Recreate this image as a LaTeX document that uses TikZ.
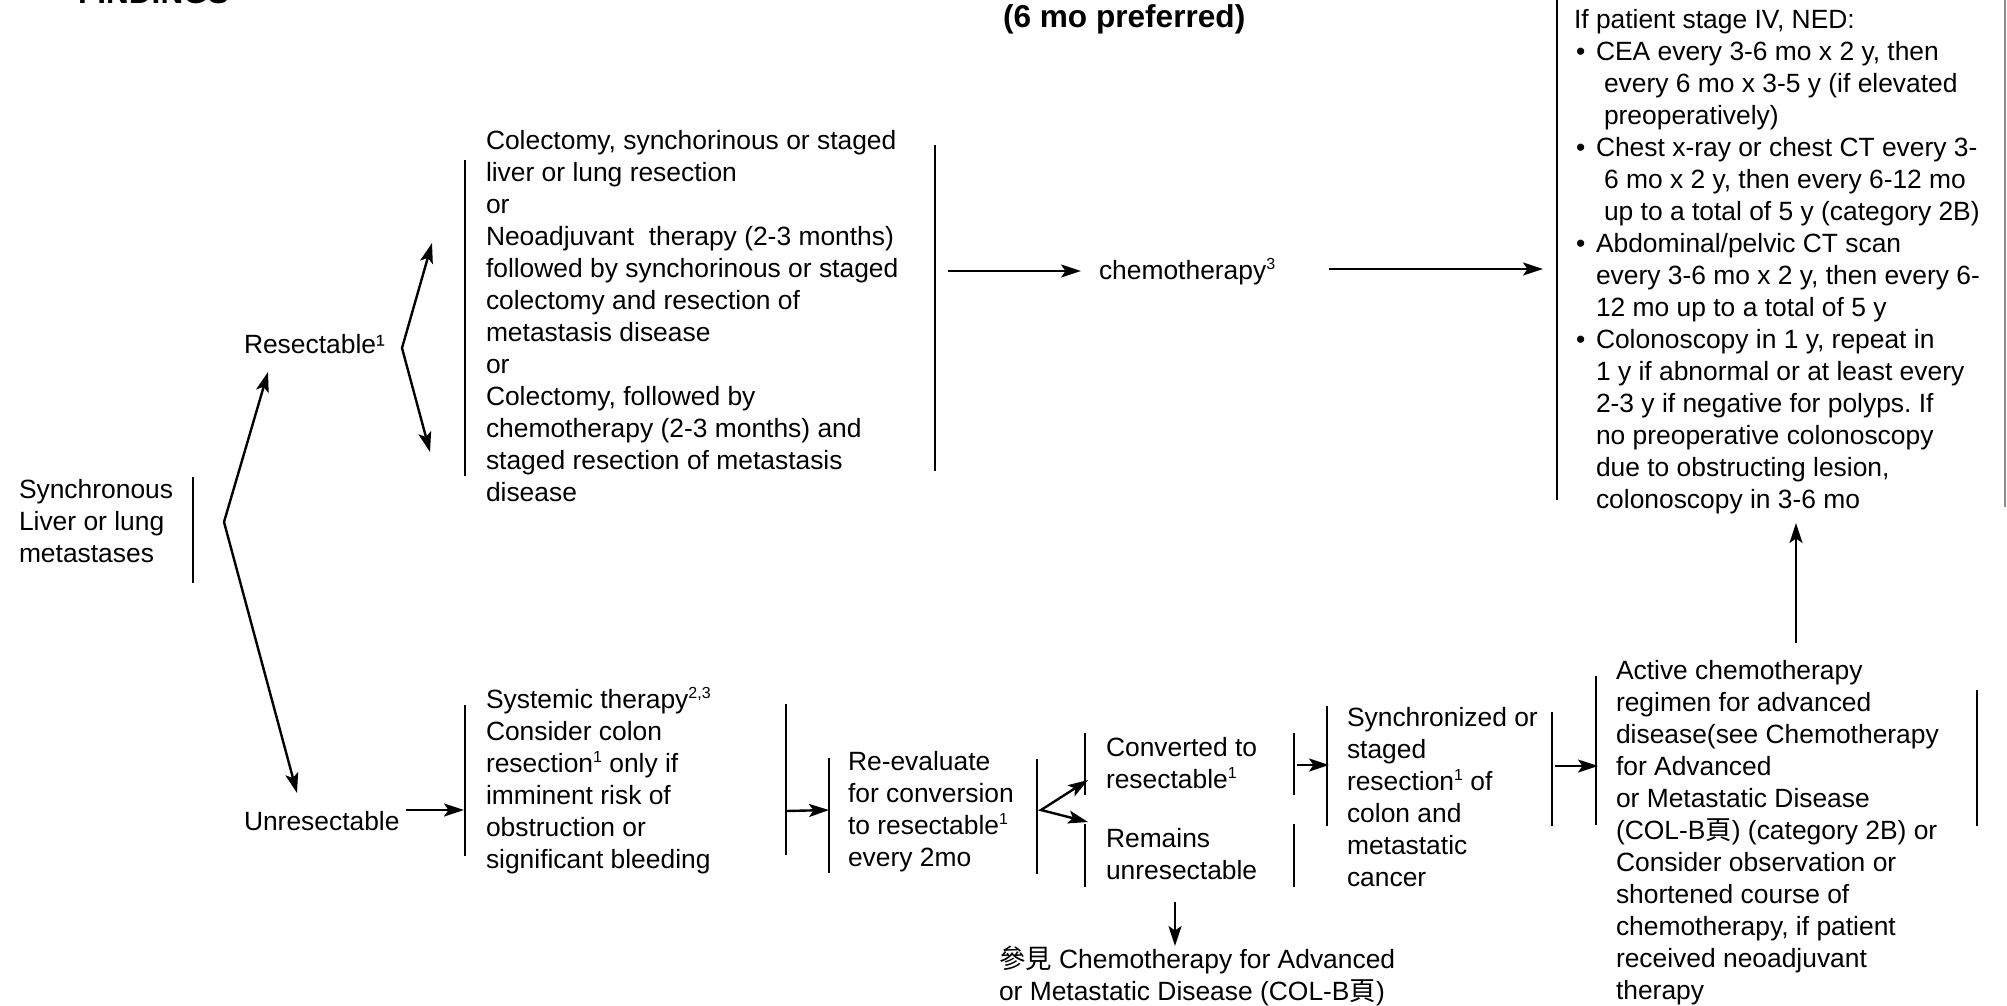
\documentclass[tikz,border=0pt]{standalone}
\usepackage{fontspec}
\setmainfont{Liberation Sans}
\newfontfamily\cjk{Noto Sans CJK TC}
\usetikzlibrary{arrows.meta}
\frenchspacing
\newcommand\nfnt{\fontsize{26.4}{32}\selectfont}
\newcommand\tfnt{\fontsize{31.6}{38}\selectfont\bfseries}
\newcommand\blk[1]{\begin{tabular}[t]{@{}l@{}}#1\end{tabular}}
\newcommand\sups[1]{\raisebox{9.5pt}{\fontsize{16}{16}\selectfont #1}}
\newcommand\cj[1]{\smash{{\cjk #1}}}
\newcommand\bul{\hspace*{2pt}\makebox[20pt][l]{•}}
\tikzset{
  tip/.tip={Stealth[length=20pt,width=13pt,inset=4.5pt]},
  txt/.style={anchor=base west, inner sep=0pt, outer sep=0pt, font=\nfnt},
  ttl/.style={anchor=base west, inner sep=0pt, outer sep=0pt, font=\tfnt},
  vline/.style={draw, line width=1.8pt},
  arr/.style={draw, line width=2.4pt, -tip},
  arrboth/.style={draw, line width=2.4pt, line join=miter, tip-tip}
}
\begin{document}
\begin{tikzpicture}[x=1pt,y=-1pt]
\path[use as bounding box] (0,0) rectangle (2007,1005);

% titles
\node[ttl] (findings) at (78,3.5) {FINDINGS};
\node[ttl] (pref) at (1003,27) {(6 mo preferred)};

% left node
\node[txt] (sync) at (19,498) {\blk{Synchronous\\Liver or lung\\metastases}};
\draw[vline] (193,477) -- (193,583);
\coordinate (b0) at (224,522);
\coordinate (resTip) at (268,372);
\coordinate (unTip) at (297,793);
\draw[arrboth] (resTip) -- (b0) -- (unTip);

% resectable
\node[txt] (res) at (244,353) {Resectable¹};
\coordinate (b1) at (402,348);
\coordinate (r1) at (432,243);
\coordinate (r2) at (430,452);
\draw[arrboth] (r1) -- (b1) -- (r2);

% resectable options
\draw[vline] (465,160) -- (465,476);
\node[txt] (opts) at (486,149) {\blk{Colectomy, synchorinous or staged\\liver or lung resection\\or\\Neoadjuvant\ \ therapy (2-3 months)\\followed by synchorinous or staged\\colectomy and resection of\\metastasis disease\\or\\Colectomy, followed by\\chemotherapy (2-3 months) and\\staged resection of metastasis\\disease}};
\draw[vline] (935,145) -- (935,471);
\coordinate (optsOut) at (948,271);
\coordinate (chemoIn) at (1081,271);
\draw[arr] (optsOut) -- (chemoIn);
\node[txt] (chemo) at (1099,279) {chemotherapy\sups{3}};
\coordinate (chemoOut) at (1329,269);
\coordinate (fuIn) at (1543,269);
\draw[arr] (chemoOut) -- (fuIn);

% follow-up
\draw[vline] (1557,0) -- (1557,500);
\node[txt] (fu) at (1574,28) {\blk{If patient stage IV, NED:\\
\bul CEA every 3-6 mo x 2 y, then\\
\hspace*{30pt}every 6 mo x 3-5 y (if elevated\\
\hspace*{30pt}preoperatively)\\
\bul Chest x-ray or chest CT every 3-\\
\hspace*{30pt}6 mo x 2 y, then every 6-12 mo\\
\hspace*{30pt}up to a total of 5 y (category 2B)\\
\bul Abdominal/pelvic CT scan\\
\hspace*{22pt}every 3-6 mo x 2 y, then every 6-\\
\hspace*{22pt}12 mo up to a total of 5 y\\
\bul Colonoscopy in 1 y, repeat in\\
\hspace*{22pt}1 y if abnormal or at least every\\
\hspace*{22pt}2-3 y if negative for polyps. If\\
\hspace*{22pt}no preoperative colonoscopy\\
\hspace*{22pt}due to obstructing lesion,\\
\hspace*{22pt}colonoscopy in 3-6 mo}};
\draw[vline, draw=black!45] (2005,0) -- (2005,507);

% unresectable
\node[txt] (unres) at (244,830) {Unresectable};
\coordinate (unOut) at (406,810);
\coordinate (sysIn) at (464,810);
\draw[arr] (unOut) -- (sysIn);
\draw[vline] (465,705) -- (465,856);
\node[txt] (sys) at (486,708) {\blk{Systemic therapy\sups{2,3}\\Consider colon\\resection\sups{1} only if\\imminent risk of\\obstruction or\\significant bleeding}};
\draw[vline] (786,704) -- (786,855);
\coordinate (sysOut) at (786,811);
\coordinate (reIn) at (829,810);
\draw[arr] (sysOut) -- (reIn);

% re-evaluate
\draw[vline] (829,758) -- (829,873);
\node[txt] (reev) at (848,770) {\blk{Re-evaluate\\for conversion\\to resectable\sups{1}\\every 2mo}};
\draw[vline] (1037,759) -- (1037,874);
\coordinate (b2) at (1041,810);
\coordinate (c1) at (1088,780);
\coordinate (c2) at (1088,822);
\draw[arrboth] (c1) -- (b2) -- (c2);

% converted / remains
\draw[vline] (1085,733) -- (1085,795);
\node[txt] (conv) at (1106,756) {\blk{Converted to\\resectable\sups{1}}};
\draw[vline] (1294,733) -- (1294,795);
\draw[vline] (1085,824) -- (1085,887);
\node[txt] (rem) at (1106,847) {\blk{Remains\\unresectable}};
\draw[vline] (1294,824) -- (1294,887);
\coordinate (convOut) at (1297,765);
\coordinate (synIn) at (1329,765);
\draw[arr] (convOut) -- (synIn);
\coordinate (remOut) at (1175,902);
\coordinate (seeIn) at (1175,946);
\draw[arr] (remOut) -- (seeIn);
\node[txt] (see) at (999,968) {\blk{\cj{參見} Chemotherapy for Advanced\\or Metastatic Disease (COL-B\cj{頁})}};

% synchronized
\draw[vline] (1327,706) -- (1327,826);
\node[txt] (syn) at (1347,726) {\blk{Synchronized or\\staged\\resection\sups{1} of\\colon and\\metastatic\\cancer}};
\draw[vline] (1552,712) -- (1552,826);
\coordinate (synOut) at (1555,766);
\coordinate (actIn) at (1598,766);
\draw[arr] (synOut) -- (actIn);

% active chemotherapy
\draw[vline] (1596,676) -- (1596,825);
\node[txt] (act) at (1616,679) {\blk{Active chemotherapy\\regimen for advanced\\disease(see Chemotherapy\\for Advanced\\or Metastatic Disease\\(COL-B\cj{頁}) (category 2B) or\\Consider observation or\\shortened course of\\chemotherapy, if patient\\received neoadjuvant\\therapy}};
\draw[vline] (1977,690) -- (1977,826);
\coordinate (actOut) at (1796,643);
\coordinate (fuBottom) at (1796,523);
\draw[arr] (actOut) -- (fuBottom);
\end{tikzpicture}
\end{document}
